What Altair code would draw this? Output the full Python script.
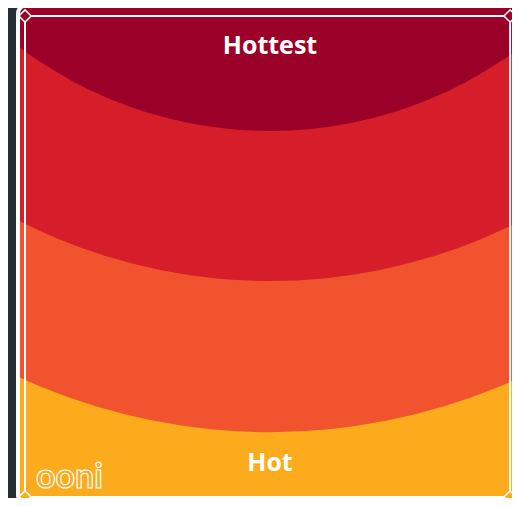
import altair as alt
import pandas as pd

# Heat bands, hottest (innermost, at the back of the oven) to hot (front)
band_names = ["Hottest", "Hotter", "Very hot", "Hot"]
band_colors = ["#9b0029", "#d51e29", "#f0532d", "#fbab1b"]

# Heat-zone circles, in oven units (inner frame = 100 units wide), drawn largest first
zone_names = ["Very hot", "Hotter", "Hottest"]
zone_cx = [50.1, 50.1, 50.1]
zone_cy = [-37.6, -58.5, -61.8]
zone_r = [122.7, 112.7, 85.3]

# Labels
label_text = ["Hottest", "Hot"]
label_x = [50.1, 50.1]
label_y = [6.2, 91.5]

# Frame corners (oven units)
frame_left, frame_right = 0, 99.2
frame_top, frame_bottom = 0, 98.36
corner_x = [frame_left, frame_right, frame_left, frame_right]
corner_y = [frame_top, frame_top, frame_bottom, frame_bottom]
corner_band = ["Hottest", "Hottest", "Hot", "Hot"]

zones = pd.DataFrame({"band": zone_names, "cx": zone_cx, "cy": zone_cy, "r": zone_r,
                      "i": list(range(len(zone_names)))})
labels = pd.DataFrame({"text": label_text, "x": label_x, "y": label_y})
corners = pd.DataFrame({"x": corner_x, "y": corner_y, "band": corner_band})

xs = alt.Scale(domain=[0, 100], range=[5, 494], zero=False, nice=False)
ys = alt.Scale(domain=[0, 98.36], range=[8, 489], zero=False, nice=False)
rs = alt.Scale(type="linear", domain=[0, 100], range=[0, 489], zero=True)
cs = alt.Scale(domain=band_names, range=band_colors)

arcs = alt.Chart(zones).mark_arc(theta=0, theta2=6.2832, clip=True).encode(
    x=alt.X("cx:Q", scale=xs, axis=None),
    y=alt.Y("cy:Q", scale=ys, axis=None),
    radius=alt.Radius("r:Q", scale=rs, stack=False),
    color=alt.Color("band:N", scale=cs, legend=None),
    order=alt.Order("i:Q"),
)

inner = alt.Chart(pd.DataFrame({"a": [0]})).mark_rect(
    filled=False, stroke="white", strokeWidth=2
).encode(
    x=alt.datum(frame_left), x2=alt.datum(frame_right),
    y=alt.datum(frame_top), y2=alt.datum(frame_bottom)
)

outer = alt.Chart(pd.DataFrame({"a": [0]})).mark_rect(
    filled=False, stroke="white", strokeWidth=4, cornerRadius=8, clip=False
).encode(
    x=alt.value(-2), x2=alt.value(510), y=alt.value(-2.5), y2=alt.value(495)
)

diamonds = alt.Chart(corners).mark_point(
    shape="diamond", filled=True, size=150, stroke="white", strokeWidth=1.5, opacity=1, clip=False
).encode(
    x=alt.X("x:Q"), y=alt.Y("y:Q"),
    fill=alt.Fill("band:N", scale=cs, legend=None),
)

texts = alt.Chart(labels).mark_text(
    font="Open Sans", fontWeight="bold", fontSize=25, color="white", align="center", baseline="middle"
).encode(
    x="x:Q", y="y:Q", text="text:N"
)

logo = alt.Chart(pd.DataFrame({"t": ["ooni"]})).mark_text(
    font="Lato", fontWeight="bold", fontSize=34, fill="#fbab1b", stroke="white", strokeWidth=1.2,
    align="left", baseline="alphabetic"
).encode(
    x=alt.datum(2.25), y=alt.datum(96.5), text="t:N"
)

chart = alt.layer(arcs, inner, diamonds, texts, logo, outer).properties(
    width=492, height=490,
    padding={"left": 12, "top": 0, "right": 0, "bottom": 0},
    autosize=alt.AutoSizeParams(type="none"),
    background="#252d35",
).configure_view(fill="#fbab1b", strokeWidth=0)

chart.save("out.html", embed_options={"renderer": "svg", "actions": False})
